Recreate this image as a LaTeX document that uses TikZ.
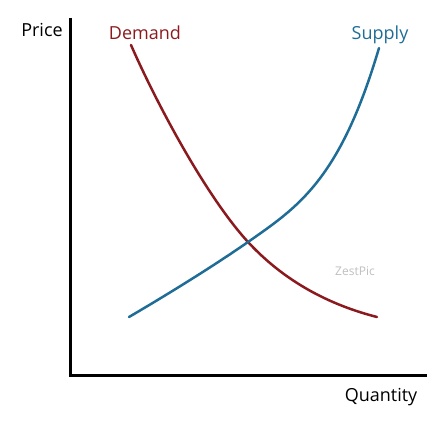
\documentclass[tikz,border=0pt]{standalone}
\usepackage{fontspec}
\setmainfont{Open Sans}
\usetikzlibrary{positioning}

\definecolor{demandred}{HTML}{8B1A1F}
\definecolor{supplyblue}{HTML}{1F6D96}

\begin{document}
\begin{tikzpicture}[x=1pt,y=-1pt]
\useasboundingbox (0,0) rectangle (448,422);
\tikzset{lbl/.style={anchor=base, inner sep=0pt, font=\fontsize{18}{20}\selectfont}}
\draw[black, line width=3pt] (70,18) -- (70,376) -- (427,376);
\draw[demandred, line width=2.5pt, line cap=round] (131,45) .. controls (155,100) and (205,195) .. (248,242)
  .. controls (285,282) and (330,305) .. (377,317);
\draw[supplyblue, line width=2.5pt, line cap=round] (129,317) .. controls (170,293) and (215,265) .. (248,242)
  .. controls (298,207) and (340,180) .. (379,48);
\node[lbl] (price) at (42,37) {Price};
\node[lbl, text=demandred] (demand) at (145,40) {Demand};
\node[lbl, text=supplyblue] (supply) at (380,40) {Supply};
\node[lbl] (quantity) at (381,402) {Quantity};
\node[anchor=base, inner sep=0pt, font=\fontsize{12}{14}\selectfont, text=black!25] (mark) at (355,276) {ZestPic};
\end{tikzpicture}
\end{document}
